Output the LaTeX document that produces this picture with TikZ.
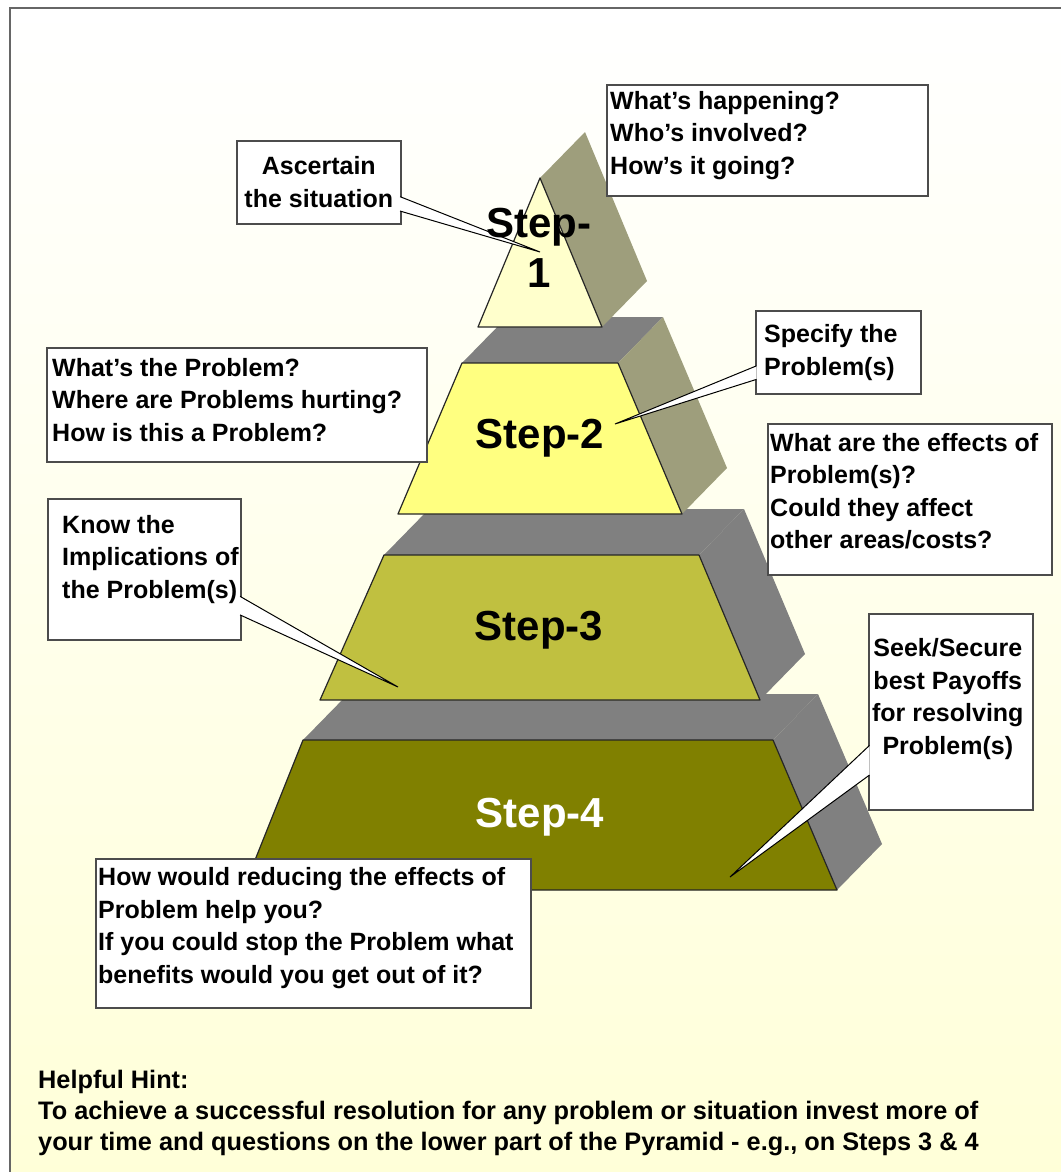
\documentclass[tikz,border=0pt]{standalone}
\usepackage{fontspec}
\setmainfont{Liberation Sans}
\usetikzlibrary{calc,positioning}

\definecolor{stepone}{RGB}{255,255,204}
\definecolor{steptwo}{RGB}{255,255,128}
\definecolor{stepthree}{RGB}{192,192,64}
\definecolor{stepfour}{RGB}{128,128,0}
\definecolor{sage}{RGB}{158,158,124}
\definecolor{slab}{RGB}{128,128,128}
\definecolor{paper}{RGB}{255,255,216}

\begin{document}
\begin{tikzpicture}[x=1pt,y=-1pt,
	front/.style={draw=black!85, line width=1.2pt, line join=round},
	callbox/.style={draw=black!70, line width=1.6pt, fill=white, inner sep=0pt, anchor=north west},
	calltext/.style={font=\fontsize{25}{32.5}\selectfont\bfseries, align=left, inner sep=0pt},
	steplabel/.style={font=\fontsize{42}{47}\selectfont\bfseries, align=center, inner sep=0pt},
	pointer/.style={draw=black, line width=1pt, line join=miter}]

	\useasboundingbox (0,0) rectangle (1060,1172);

	% page and frame
	\fill[white] (0,0) rectangle (1060,1172);
	\shade[top color=white, bottom color=paper] (10,8) rectangle (1070,1180);
	\draw[black!60, line width=2.5pt] (10,1180) -- (10,8) -- (1070,8);

	% step 4
	\fill[slab] (303,740) -- (348,694) -- (818,694) -- (773,740) -- cycle;
	\fill[slab] (773,740) -- (818,694) -- (882,844) -- (837,890) -- cycle;
	\filldraw[front, fill=stepfour] (303,740) -- (773,740) -- (837,890) -- (243,890) -- cycle;

	% step 3
	\fill[slab] (384,555) -- (429,509) -- (744,509) -- (699,555) -- cycle;
	\fill[slab] (699,555) -- (744,509) -- (805,654) -- (760,700) -- cycle;
	\filldraw[front, fill=stepthree] (384,555) -- (699,555) -- (760,700) -- (320,700) -- cycle;

	% step 2
	\fill[slab] (462,363) -- (507,317) -- (663,317) -- (618,363) -- cycle;
	\fill[sage] (618,363) -- (663,317) -- (727,468) -- (682,514) -- cycle;
	\filldraw[front, fill=steptwo] (462,363) -- (618,363) -- (682,514) -- (398,514) -- cycle;

	% step 1
	\fill[sage] (540,178) -- (585,132) -- (647,281) -- (602,327) -- cycle;
	\filldraw[front, fill=stepone] (540,178) -- (602,327) -- (478,327) -- cycle;

	% callout boxes
	\node[callbox, minimum width=321pt, minimum height=111pt] (happen) at (606,84) {};
	\node[callbox, minimum width=164pt, minimum height=83pt] (asc) at (236,140) {};
	\node[callbox, minimum width=165pt, minimum height=83pt] (spec) at (755,310) {};
	\node[callbox, minimum width=284pt, minimum height=151pt] (effects) at (767,423) {};
	\node[callbox, minimum width=380pt, minimum height=114pt] (problem) at (46,347) {};
	\node[callbox, minimum width=193pt, minimum height=141pt] (know) at (47,498) {};
	\node[callbox, minimum width=164pt, minimum height=196pt] (seek) at (868,613) {};
	\node[callbox, minimum width=435pt, minimum height=149pt] (reduce) at (95,858) {};

	% pointer tips
	\coordinate (asc-tip) at (540,252);
	\coordinate (spec-tip) at (615,424);
	\coordinate (know-tip) at (398,687);
	\coordinate (seek-tip) at (730,877);

	% pointers
	\coordinate (asc-a) at ($(asc.north east)!0.67!(asc.south east)+(-1.5,0)$);
	\coordinate (asc-b) at ($(asc.north east)!0.84!(asc.south east)+(-1.5,0)$);
	\fill[white] (asc-a) -- (asc-tip) -- (asc-b) -- cycle;
	\draw[pointer] (asc-a) -- (asc-tip) -- (asc-b);

	\coordinate (spec-a) at ($(spec.north west)!0.66!(spec.south west)+(1.5,0)$);
	\coordinate (spec-b) at ($(spec.north west)!0.82!(spec.south west)+(1.5,0)$);
	\fill[white] (spec-a) -- (spec-tip) -- (spec-b) -- cycle;
	\draw[pointer] (spec-a) -- (spec-tip) -- (spec-b);

	\coordinate (know-a) at ($(know.north east)!0.69!(know.south east)+(-1.5,0)$);
	\coordinate (know-b) at ($(know.north east)!0.82!(know.south east)+(-1.5,0)$);
	\fill[white] (know-a) -- (know-tip) -- (know-b) -- cycle;
	\draw[pointer] (know-a) -- (know-tip) -- (know-b);

	\coordinate (seek-a) at ($(seek.north west)!0.67!(seek.south west)+(1.5,0)$);
	\coordinate (seek-b) at ($(seek.north west)!0.82!(seek.south west)+(1.5,0)$);
	\fill[white] (seek-a) -- (seek-tip) -- (seek-b) -- cycle;
	\draw[pointer] (seek-a) -- (seek-tip) -- (seek-b);

	% callout texts
	\node[calltext, right=4pt of happen.west, yshift=5pt] (happen-t) {What's happening?\\Who's involved?\\How's it going?};
	\node[calltext, align=center] (asc-t) at (asc.center) {Ascertain\\the situation};
	\node[calltext, right=9pt of spec.west] (spec-t) {Specify the\\Problem(s)};
	\node[calltext, right=3pt of effects.west, yshift=8pt] (effects-t) {What are the effects of\\Problem(s)?\\Could they affect\\other areas/costs?};
	\node[calltext, right=6pt of problem.west, yshift=5pt] (problem-t) {What's the Problem?\\Where are Problems hurting?\\How is this a Problem?};
	\node[calltext, right=15pt of know.west, yshift=10pt] (know-t) {Know the\\Implications of\\the Problem(s)};
	\node[calltext, align=center, yshift=13pt, xshift=-3pt] (seek-t) at (seek.center) {Seek/Secure\\best Payoffs\\for resolving\\Problem(s)};
	\node[calltext, right=3pt of reduce.west, yshift=5pt] (reduce-t) {How would reducing the effects of\\Problem help you?\\If you could stop the Problem what\\benefits would you get out of it?};

	% step labels
	\node[steplabel, font=\fontsize{42}{50}\selectfont\bfseries] (step1) at (539,248) {Step-\\1};
	\node[steplabel] (step2) at (540,438) {Step-2};
	\node[steplabel] (step3) at (539,630) {Step-3};
	\node[steplabel, text=white] (step4) at (540,817) {Step-4};

	% hint
	\node[align=left, anchor=north west, inner sep=0pt, font=\fontsize{25.3}{31}\selectfont\bfseries] (hint) at (38,1070) {Helpful Hint:\\To achieve a successful resolution for any problem or situation invest more of\\your time and questions on the lower part of the Pyramid - e.g., on Steps 3 \& 4};

\end{tikzpicture}
\end{document}
